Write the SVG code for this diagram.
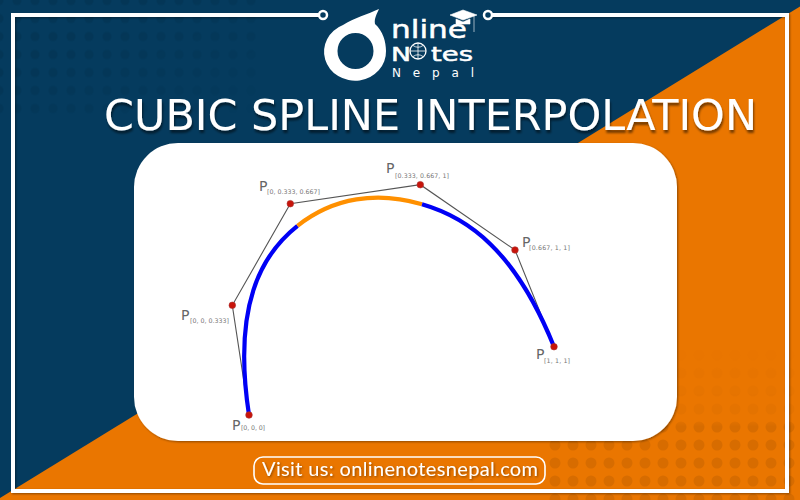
<svg xmlns="http://www.w3.org/2000/svg" width="800" height="500" viewBox="0 0 800 500">
<defs>
<pattern id="dotsL" width="18" height="18" patternUnits="userSpaceOnUse" patternTransform="translate(8 9.500)"><circle cx="9" cy="9" r="4.500"/></pattern>
<pattern id="dotsR" width="18" height="18" patternUnits="userSpaceOnUse" patternTransform="translate(6 4)"><circle cx="9" cy="9" r="5.500"/></pattern>
<filter id="sh" x="-10%" y="-10%" width="120%" height="120%"><feDropShadow dx="1" dy="1" stdDeviation="1.200" flood-color="#000" flood-opacity="0.4"/></filter>
<filter id="tsh" x="-5%" y="-20%" width="110%" height="150%"><feDropShadow dx="1" dy="3" stdDeviation="1.300" flood-color="#000" flood-opacity="0.5"/></filter>
<linearGradient id="fadeL" x1="0" y1="0" x2="1" y2="1"><stop offset="0.300" stop-color="#fff"/><stop offset="1" stop-color="#000"/></linearGradient>
<linearGradient id="fadeR" x1="0" y1="0" x2="0" y2="1"><stop offset="0" stop-color="#000"/><stop offset="0.500" stop-color="#555"/><stop offset="0.540" stop-color="#fff"/><stop offset="1" stop-color="#fff"/></linearGradient>
<mask id="mL" maskUnits="userSpaceOnUse" x="0" y="0" width="260" height="120"><rect width="260" height="120" fill="url(#fadeL)"/></mask>
<mask id="mR" maskUnits="userSpaceOnUse" x="546" y="340" width="254" height="160"><rect x="546" y="340" width="254" height="160" fill="url(#fadeR)"/></mask>
</defs>
<style>
.p{font-family:"DejaVu Sans",sans-serif;font-size:14px;fill:#666}
.s{font-family:"DejaVu Sans",sans-serif;font-size:6.300px;fill:#777}
.c{fill:#c8140a;stroke:#a33;stroke-width:.6}
.l{font-family:"DejaVu Sans",sans-serif;fill:#fff;stroke:#fff;stroke-width:.5}
</style>
<rect width="800" height="500" fill="#053b5e"/>
<polygon points="800,6.500 800,500 0,500 0,498" fill="#ea7600"/>
<rect width="260" height="120" fill="url(#dotsL)" fill-opacity=".08" mask="url(#mL)"/>
<rect x="546" y="340" width="254" height="160" fill="url(#dotsR)" fill-opacity=".08" mask="url(#mR)"/>
<path d="M323 15H13V491H787V15H488" fill="none" stroke="#fff" stroke-width="4" filter="url(#sh)"/>
<circle cx="323" cy="15" r="4" fill="#053b5e" stroke="#fff" stroke-width="2.500"/>
<circle cx="488" cy="15" r="4" fill="#053b5e" stroke="#fff" stroke-width="2.500"/>
<rect x="134" y="143" width="543" height="298" rx="44" fill="#fff" filter="url(#sh)"/>
<g id="logo">
<path fill-rule="evenodd" d="M379 9C377 14 374 18 375 24 383 31 386 42 386 51A31 29 0 1 1 343 25C354 18 368 14 379 9ZM355.500 33A18 18 0 1 0 355.500 69 18 18 0 1 0 355.500 33Z" fill="#fff"/>
<text class="l" x="391" y="37.500" font-size="25" textLength="76" lengthAdjust="spacingAndGlyphs">nline</text>
<text class="l" x="391" y="61" font-size="19" textLength="20" lengthAdjust="spacingAndGlyphs">N</text>
<circle cx="418" cy="51" r="8" fill="none" stroke="#fff" stroke-width="1.300"/>
<path d="M410 51H426M418 43V59M413 45.500Q418 49 423 45.500M413 56.500Q418 53 423 56.500" fill="none" stroke="#fff" stroke-width=".8"/>
<text class="l" x="431" y="61" font-size="19" textLength="42" lengthAdjust="spacingAndGlyphs">tes</text>
<text x="392" y="77" font-family="DejaVu Sans,sans-serif" font-size="12" fill="#fff" textLength="82">Nepal</text>
<path d="M450 15 463 10 477 15 463 20Z M456 19V24H470V19L463 22Z M474 16V32" fill="#fff" stroke="#fff" stroke-width=".6"/>
</g>
<text x="104" y="130" font-family="DejaVu Sans,sans-serif" font-size="43" fill="#fff" textLength="653" lengthAdjust="spacingAndGlyphs" filter="url(#tsh)">CUBIC SPLINE INTERPOLATION</text>
<g id="connectors">
<polyline points="249,415 232.300,305.300 290.300,203.700 420.300,184.700 515,250 554,346.700" fill="none" stroke="#555" stroke-width="1.100"/>
<g fill="none" stroke-width="4.200">
<path d="M249 415C232.300 305.300 261.300 254.500 297.500 225.800" stroke="#0000f5"/>
<path d="M297.500 225.800C333.600 197.400 377 191 422 204.250" stroke="#ff9000"/>
<path d="M422 204.250C467.600 217.400 515 250 554 346.700" stroke="#0000f5"/>
</g>
</g>
<g id="p0"><circle class="c" cx="249" cy="415" r="3.300"/><text class="p" x="232" y="430">P</text><text class="s" x="241" y="430" textLength="24">[0, 0, 0]</text></g>
<g id="p1"><circle class="c" cx="232.300" cy="305.300" r="3.300"/><text class="p" x="181" y="320">P</text><text class="s" x="190" y="323" textLength="39">[0, 0, 0.333]</text></g>
<g id="p2"><circle class="c" cx="290.300" cy="203.700" r="3.300"/><text class="p" x="259" y="191">P</text><text class="s" x="267" y="194" textLength="53">[0, 0.333, 0.667]</text></g>
<g id="p3"><circle class="c" cx="420.300" cy="184.700" r="3.300"/><text class="p" x="386" y="173">P</text><text class="s" x="395" y="178" textLength="54">[0.333, 0.667, 1]</text></g>
<g id="p4"><circle class="c" cx="515" cy="250" r="3.300"/><text class="p" x="522" y="247">P</text><text class="s" x="529" y="249.500" textLength="41">[0.667, 1, 1]</text></g>
<g id="p5"><circle class="c" cx="554" cy="346.700" r="3.300"/><text class="p" x="536" y="359">P</text><text class="s" x="544" y="363" textLength="26">[1, 1, 1]</text></g>
<g id="visit">
<rect x="254" y="457" width="291" height="27" rx="9" fill="none" stroke="#fff" stroke-width="1.600"/>
<text x="262" y="476" font-family="Lato,sans-serif" font-size="20" fill="#fff" textLength="276" filter="url(#sh)">Visit us: onlinenotesnepal.com</text>
</g>
</svg>
